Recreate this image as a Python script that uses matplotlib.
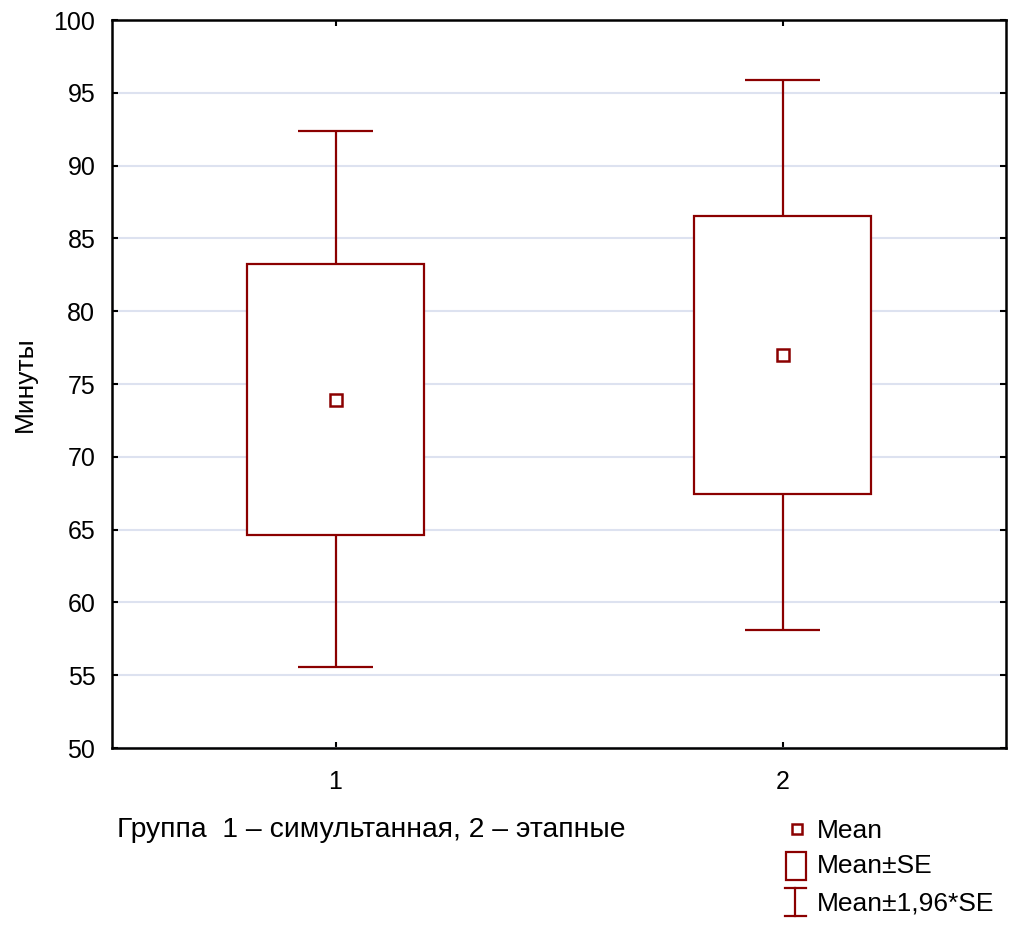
import matplotlib

matplotlib.use("Agg")
import matplotlib.pyplot as plt
from matplotlib.patches import Rectangle
from matplotlib.lines import Line2D

plt.rcParams["font.family"] = ["Liberation Sans", "DejaVu Sans"]

# data
groups = [1, 2]
group_labels = ["1", "2"]
means = [73.9, 77.0]
se_low = [64.6, 67.45]
se_high = [83.25, 86.55]
ci_low = [55.55, 58.1]
ci_high = [92.4, 95.9]

yticks = list(range(50, 101, 5))
red = "#8B0000"

fig = plt.figure(figsize=(10.27, 9.39), dpi=100)
ax = fig.add_axes([112 / 1027, 1 - 748 / 939, 894 / 1027, 728 / 939])

box_w = 0.395
cap_w = 0.17
for g, m, lo, hi, clo, chi in zip(groups, means, se_low, se_high, ci_low, ci_high):
    ax.vlines(g, hi, chi, color=red, lw=1.6, zorder=3)
    ax.vlines(g, clo, lo, color=red, lw=1.6, zorder=3)
    ax.hlines([clo, chi], g - cap_w / 2, g + cap_w / 2, color=red, lw=1.6, zorder=3)
    ax.add_patch(Rectangle((g - box_w / 2, lo), box_w, hi - lo, facecolor="white",
                           edgecolor=red, lw=1.6, zorder=3))
    ax.plot(g, m, marker="s", ms=8, mfc="white", mec=red, mew=1.8, zorder=4)

ax.set_xlim(0.5, 2.5)
ax.set_ylim(50, 100)
ax.set_xticks(groups)
ax.set_xticklabels(group_labels)
ax.set_yticks(yticks)
ax.grid(axis="y", color="#dde2f0", lw=1.5, zorder=0)
ax.set_axisbelow(True)
ax.tick_params(direction="in", length=4, width=1.5, labelsize=18,
               top=True, right=True)
ax.tick_params(axis="y", pad=12)
ax.tick_params(axis="x", pad=16)
for s in ax.spines.values():
    s.set_linewidth(1.8)
ax.set_ylabel("Минуты", fontsize=19, labelpad=12)

fig.text(117 / 1027, 1 - 830 / 939, "Группа  1 – симультанная, 2 – этапные",
         fontsize=20.3, va="center", ha="left")

# legend drawn by hand in figure coordinates
lx, ly = 797 / 1027, 1 - 829 / 939
fig.add_artist(Line2D([lx], [ly], marker="s", ms=7, mfc="white", mec=red, mew=1.8,
                      transform=fig.transFigure))
fig.add_artist(Rectangle((786 / 1027, 1 - 880 / 939), 20 / 1027, 28 / 939,
                         facecolor="white", edgecolor=red, lw=1.6,
                         transform=fig.transFigure))
wx = 795 / 1027
fig.add_artist(Line2D([wx, wx], [1 - 888 / 939, 1 - 916 / 939], color=red, lw=1.6,
                      transform=fig.transFigure))
fig.add_artist(Line2D([785 / 1027, 806 / 1027], [1 - 888 / 939] * 2, color=red, lw=1.6,
                      transform=fig.transFigure))
fig.add_artist(Line2D([785 / 1027, 806 / 1027], [1 - 916 / 939] * 2, color=red, lw=1.6,
                      transform=fig.transFigure))
for ty, txt in [(831, "Mean"), (866, "Mean±SE"), (904, "Mean±1,96*SE")]:
    fig.text(817 / 1027, 1 - ty / 939, txt, fontsize=19, va="center", ha="left")

fig.savefig("out.png", dpi=100)
